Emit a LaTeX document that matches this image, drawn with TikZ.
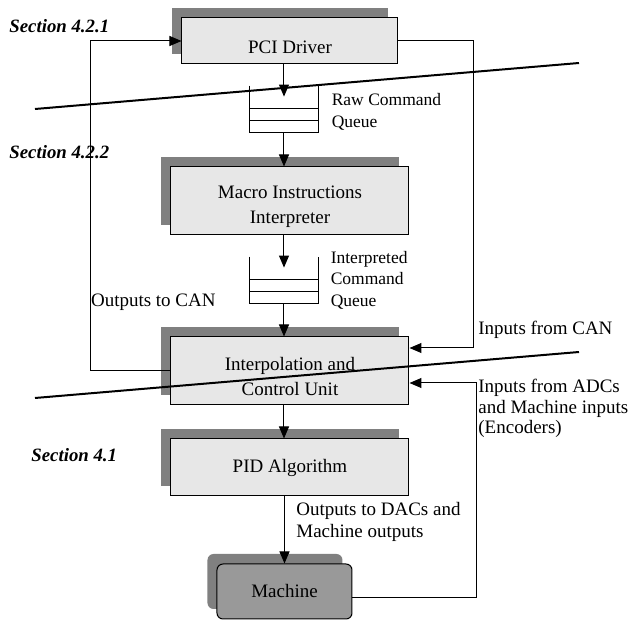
\documentclass[tikz,border=0pt]{standalone}
\usepackage{fontspec}
\setmainfont{Liberation Serif}
\usetikzlibrary{positioning,shadows,arrows.meta}

\definecolor{boxgray}{RGB}{231,231,231}
\definecolor{shadegray}{RGB}{128,128,128}
\definecolor{machgray}{RGB}{153,153,153}

\tikzset{
  unit/.style={draw,line width=0.5pt,fill=boxgray,inner sep=0pt,align=center,
    font=\fontsize{9.5}{12.5}\selectfont,
    general shadow={fill=shadegray,shadow xshift=-4.75pt,shadow yshift=5pt}},
  lowtext/.style={text height=#1},
  queue/.style={inner sep=0pt,minimum width=34pt,minimum height=23pt},
  arr/.style={line width=0.5pt,-{Triangle[length=6pt,width=5pt]}},
  wire/.style={line width=0.5pt},
  cut/.style={line width=1pt},
  sec/.style={font=\fontsize{9.4}{11}\selectfont\bfseries\itshape,anchor=west,inner sep=0pt},
  lbl/.style={font=\fontsize{9.5}{10.25}\selectfont,align=left,anchor=west,inner sep=0pt},
  qlbl/.style={font=\fontsize{8.75}{10.75}\selectfont,align=left,anchor=west,inner sep=0pt}
}

\begin{document}
\begin{tikzpicture}[x=0.5pt,y=-0.5pt]
        \useasboundingbox (0,0) rectangle (629,621);

        % blocks
        \node[unit,lowtext=12.6pt,minimum width=108pt,minimum height=23pt] (pci) at (290,41) {PCI Driver};
        \node[unit,lowtext=24.6pt,minimum width=119pt,minimum height=34pt] (macro) at (290,201) {Macro Instructions\\Interpreter};
        \node[unit,lowtext=25pt,minimum width=119pt,minimum height=34pt] (interp) at (290,371) {Interpolation and\\Control Unit};
        \node[unit,minimum width=119pt,minimum height=28.5pt] (pid) at (290,467.5) {PID Algorithm};
        \node[unit,fill=machgray,rounded corners=3pt,minimum width=67.5pt,minimum height=27.5pt] (machine) at (284.5,591.5) {Machine};

        % queues
        \node[queue] (rawq) at (284,109) {};
        \node[queue] (intq) at (284,280) {};
        \foreach \q in {rawq,intq}{
          \draw[wire] (\q.north west) -- (\q.south west) -- (\q.south east) -- (\q.north east);
          \draw[wire] (\q.west) -- (\q.east);
          \draw[wire] ([yshift=5.75pt]\q.south west) -- ([yshift=5.75pt]\q.south east);
        }

        % main flow
        \draw[arr] (pci.south -| rawq) -- ([yshift=-5.5pt]rawq.north);
        \draw[arr] (rawq.south) -- (macro.north -| rawq);
        \draw[arr] (macro.south -| intq) -- ([yshift=-5.5pt]intq.north);
        \draw[arr] (intq.south) -- (interp.north -| intq);
        \draw[arr] (interp.south -| intq) -- (pid.north -| intq);
        \draw[arr] (pid.south -| machine.north) -- (machine.north);

        % feedback lines
        \coordinate (canin) at (474,348);
        \coordinate (adcin) at (477,383);
        \draw[arr] (interp.west) -- ++(-80,0) |- (pci.west);
        \draw[arr] (pci.east) -| (canin) -- (canin -| interp.east);
        \draw[arr] ([yshift=-3pt]machine.east) -| (adcin) -- (adcin -| interp.east);

        % labels
        \node[qlbl,right=6.5pt of rawq,yshift=-1.5pt] (rawlbl) {Raw Command\\Queue};
        \node[qlbl,right=6pt of intq] (intlbl) {Interpreted\\Command\\Queue};
        \node[lbl,anchor=east] (canout) at (216,302) {Outputs to CAN};
        \node[lbl] (canlbl) at (478,330) {Inputs from CAN};
        \node[lbl] (adclbl) at (478,408.5) {Inputs from ADCs\\and Machine inputs\\(Encoders)};
        \node[lbl,font=\fontsize{9.5}{11}\selectfont] (daclbl) at (296,522) {Outputs to DACs and\\Machine outputs};

        \node[sec] (sec1) at (9,26) {Section 4.2.1};
        \node[sec] (sec2) at (9,152) {Section 4.2.2};
        \node[sec] (sec3) at (31,455) {Section 4.1};

        % section borders
        \draw[cut] (35,109) -- (579,63);
        \draw[cut] (35,398) -- (579,352);
      \end{tikzpicture}
\end{document}
